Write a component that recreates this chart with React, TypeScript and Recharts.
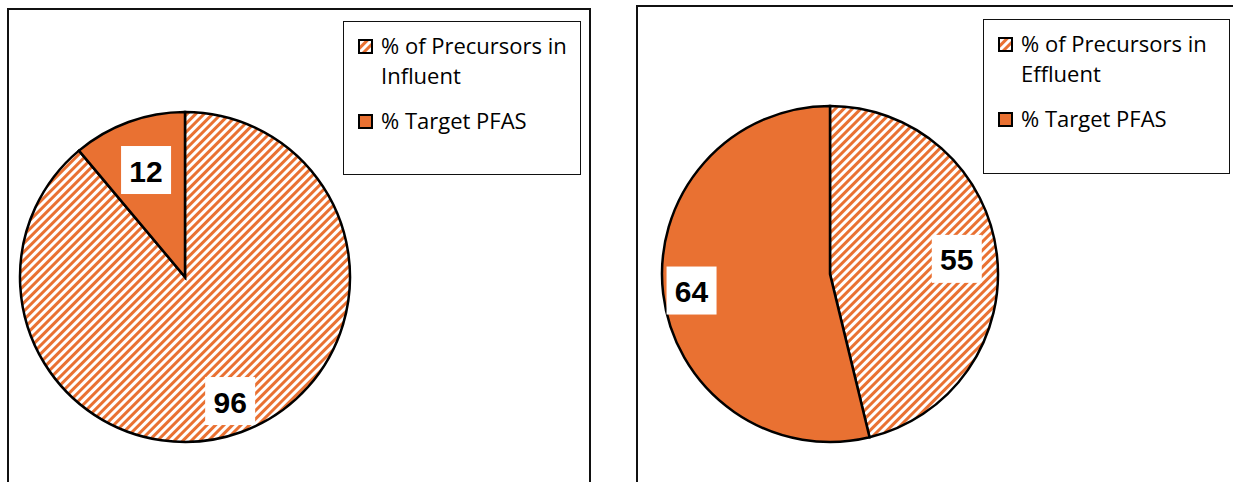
import { PieChart, Pie, Cell, Legend } from "recharts";

const ORANGE = "#E97132";

const influentNames = ["% of Precursors in Influent", "% Target PFAS"];
const influentValues = [96, 12];

const effluentNames = ["% of Precursors in Effluent", "% Target PFAS"];
const effluentValues = [55, 64];

// label box distance from centre, as a share of the radius (Excel "best fit")
const influentLabelPos = [0.8, 0.69];
const effluentLabelPos = [0.76, 0.83];

const RAD = Math.PI / 180;

function makeLabel(pos: number[]) {
  return (props: any) => {
    const { cx, cy, midAngle, outerRadius, value, index } = props;
    const r = outerRadius * pos[index];
    const x = cx + r * Math.cos(-midAngle * RAD);
    const y = cy + r * Math.sin(-midAngle * RAD);
    return (
      <g>
        <rect x={x - 25} y={y - 24} width={50} height={48} fill="#fff" />
        <text
          x={x}
          y={y + 1}
          textAnchor="middle"
          dominantBaseline="central"
          fontFamily="'Liberation Sans', Arial, sans-serif"
          fontWeight="bold"
          fontSize={30}
          fill="#000"
        >
          {value}
        </text>
      </g>
    );
  };
}

function makeLegend(names: string[], hatchId: string, padTop: number, textWidth: number) {
  return () => (
    <div style={{ paddingTop: padTop, paddingLeft: 14, fontFamily: "'Open Sans', sans-serif", fontSize: 22, lineHeight: "30px", color: "#000" }}>
      {names.map((name, i) => (
        <div key={name} style={{ display: "flex", alignItems: "flex-start", marginBottom: 15 }}>
          <svg width={15} height={15} style={{ marginTop: 9, marginRight: 8, flexShrink: 0 }}>
            <rect x={1} y={1} width={13} height={13} fill={i === 0 ? `url(#${hatchId})` : ORANGE} stroke="#000" strokeWidth={2} />
          </svg>
          <span style={{ width: textWidth }}>{name}</span>
        </div>
      ))}
    </div>
  );
}

interface PanelProps {
  names: string[];
  values: number[];
  labelPos: number[];
  hatchId: string;
  left: number;
  top: number;
  width: number;
  height: number;
  cx: number;
  cy: number;
  radius: number;
  legendBox: { left: number; top: number; width: number; height: number };
  legendPadTop: number;
  legendTextWidth: number;
}

function PiePanel(p: PanelProps) {
  const data = p.names.map((name, i) => ({ name, value: p.values[i] }));
  return (
    <div
      style={{
        position: "absolute",
        left: p.left - 2,
        top: p.top - 2,
        width: p.width,
        height: p.height,
        border: "2px solid #111",
        background: "#fff",
      }}
    >
      <PieChart width={p.width} height={p.height} margin={{ top: 0, right: 0, bottom: 0, left: 0 }}>
        <defs>
          <pattern id={p.hatchId} patternUnits="userSpaceOnUse" width={6} height={6} patternTransform="rotate(45)">
            <rect x={0} y={0} width={6} height={6} fill="#fff" />
            <rect x={0} y={0} width={3} height={6} fill={ORANGE} />
          </pattern>
        </defs>
        <Pie
          data={data}
          dataKey="value"
          nameKey="name"
          cx={p.cx}
          cy={p.cy}
          outerRadius={p.radius}
          startAngle={90}
          endAngle={-270}
          stroke="#000"
          strokeWidth={2.5}
          label={makeLabel(p.labelPos)}
          labelLine={false}
          isAnimationActive={false}
        >
          {data.map((d, i) => (
            <Cell key={d.name} fill={i === 0 ? `url(#${p.hatchId})` : ORANGE} />
          ))}
        </Pie>
        <Legend
          layout="vertical"
          align="right"
          verticalAlign="top"
          content={makeLegend(p.names, p.hatchId, p.legendPadTop, p.legendTextWidth)}
          wrapperStyle={{
            left: p.legendBox.left,
            top: p.legendBox.top,
            width: p.legendBox.width,
            height: p.legendBox.height,
            border: "1.5px solid #111",
            boxSizing: "border-box",
            background: "#fff",
          }}
        />
      </PieChart>
    </div>
  );
}

export default function App() {
  return (
    <div style={{ position: "absolute", left: 0, top: 0, width: 1233, height: 482, overflow: "hidden", background: "#fff" }}>
      <PiePanel
        names={influentNames}
        values={influentValues}
        labelPos={influentLabelPos}
        hatchId="hatchInfluent"
        left={9}
        top={10}
        width={580}
        height={490}
        cx={176}
        cy={267}
        radius={165}
        legendBox={{ left: 334, top: 11, width: 238, height: 154 }}
        legendPadTop={8}
        legendTextWidth={200}
      />
      <PiePanel
        names={effluentNames}
        values={effluentValues}
        labelPos={effluentLabelPos}
        hatchId="hatchEffluent"
        left={638}
        top={7}
        width={620}
        height={490}
        cx={192}
        cy={267}
        radius={168}
        legendBox={{ left: 345, top: 12, width: 247, height: 155 }}
        legendPadTop={8}
        legendTextWidth={205}
      />
    </div>
  );
}
